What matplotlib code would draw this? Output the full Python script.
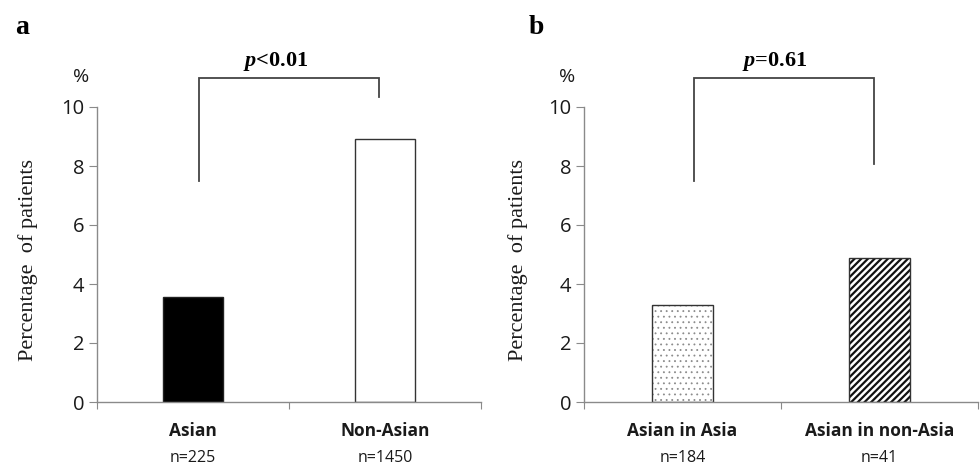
import matplotlib.pyplot as plt
from matplotlib.transforms import blended_transform_factory

# panel a
cats_a = ['Asian', 'Non-Asian']
n_a = ['225', '1450']
vals_a = [3.56, 8.92]
p_a = '<0.01'
bracket_a = [7.5, 10.34]   # leg ends (left, right)

# panel b
cats_b = ['Asian in Asia', 'Asian in non-Asia']
n_b = ['184', '41']
vals_b = [3.28, 4.88]
p_b = '=0.61'
bracket_b = [7.5, 8.07]

yticks = [0, 2, 4, 6, 8, 10]

sans = ['Open Sans', 'DejaVu Sans']
serif = ['Liberation Serif', 'DejaVu Serif']
spine_col = '#8a8a8a'
txt_col = '#1a1a1a'

plt.rcParams['mathtext.fontset'] = 'custom'
plt.rcParams['mathtext.it'] = 'Liberation Serif:italic:bold'

fig = plt.figure(figsize=(9.8, 4.68), dpi=100)
ax_a = fig.add_axes([97 / 980, 1 - 402 / 468, 384 / 980, 295 / 468])
ax_b = fig.add_axes([584 / 980, 1 - 402 / 468, 394 / 980, 295 / 468])


def draw_panel(ax, cats, ns, pval, legs, leg_x, text_x, label_x, letter, letter_x):
    ax.set_xlim(-0.5, 1.5)
    ax.set_ylim(0, 10)
    for s in ['top', 'right']:
        ax.spines[s].set_visible(False)
    for s in ['left', 'bottom']:
        ax.spines[s].set_color(spine_col)
        ax.spines[s].set_linewidth(1.0)

    ax.set_yticks(yticks)
    ax.set_yticklabels([str(t) for t in yticks], family=sans, fontsize=14.5, color=txt_col)
    ax.tick_params(axis='y', length=6, color=spine_col, pad=3)
    ax.set_xticks([-0.5, 0.5, 1.5])
    ax.set_xticklabels([])
    ax.tick_params(axis='x', length=5, color=spine_col)

    tr = blended_transform_factory(ax.transData, ax.transAxes)
    for xi, c, n in zip([0, 1], cats, ns):
        ax.annotate(c, (xi, 0), xycoords=tr, xytext=(0, -21), textcoords='offset points',
                    ha='center', va='center', family=sans, fontsize=12.5,
                    fontweight='bold', color=txt_col)
        ax.annotate('n=' + n, (xi, 0), xycoords=tr, xytext=(0, -40.5), textcoords='offset points',
                    ha='center', va='center', family=sans, fontsize=11.5, color=txt_col)

    ax.set_ylabel('Percentage  of patients', family=serif, fontsize=16, color=txt_col)
    ax.yaxis.set_label_coords(label_x, 0.48)

    # bracket
    top = 10.98
    xl, xr = leg_x
    ax.plot([xl, xl, xr, xr], [legs[0], top, top, legs[1]], color='#444444', lw=1.3,
            clip_on=False, solid_joinstyle='miter')
    ax.text(text_x, 11.55, r'$\mathit{p}$' + pval, ha='center', va='center',
            family=serif, fontsize=16, fontweight='bold', color='black', clip_on=False)
    ax.text(-0.585, 11.0, '%', ha='center', va='center', family=sans, fontsize=14,
            color=txt_col, clip_on=False)
    fig.text(letter_x / 980, 1 - 27 / 468, letter, ha='center', va='center',
             family=serif, fontsize=20, fontweight='bold')


# panel a bars
ax_a.bar(0, vals_a[0], width=0.31, color='black', edgecolor='#222222', linewidth=1.0)
ax_a.bar(1, vals_a[1], width=0.31, color='white', edgecolor='#333333', linewidth=1.0)

# panel b bars: dotted and dense diagonal hatch
plt.rcParams['hatch.linewidth'] = 0.6
ax_b.bar(0, vals_b[0], width=0.31, facecolor='white', edgecolor='#8c8c8c', hatch='...', linewidth=0)
plt.rcParams['hatch.linewidth'] = 1.6
ax_b.bar(1, vals_b[1], width=0.31, facecolor='white', edgecolor='#111111', hatch='/////', linewidth=0)
ax_b.bar([0, 1], vals_b, width=0.31, facecolor='none', edgecolor='#333333', linewidth=1.0)

draw_panel(ax_a, cats_a, n_a, p_a, bracket_a, (0.03, 0.97), 0.43, -0.154, 'a', 22)
draw_panel(ax_b, cats_b, n_b, p_b, bracket_b, (0.06, 0.97), 0.47, -0.142, 'b', 536)

fig.savefig('out.png', dpi=100)
